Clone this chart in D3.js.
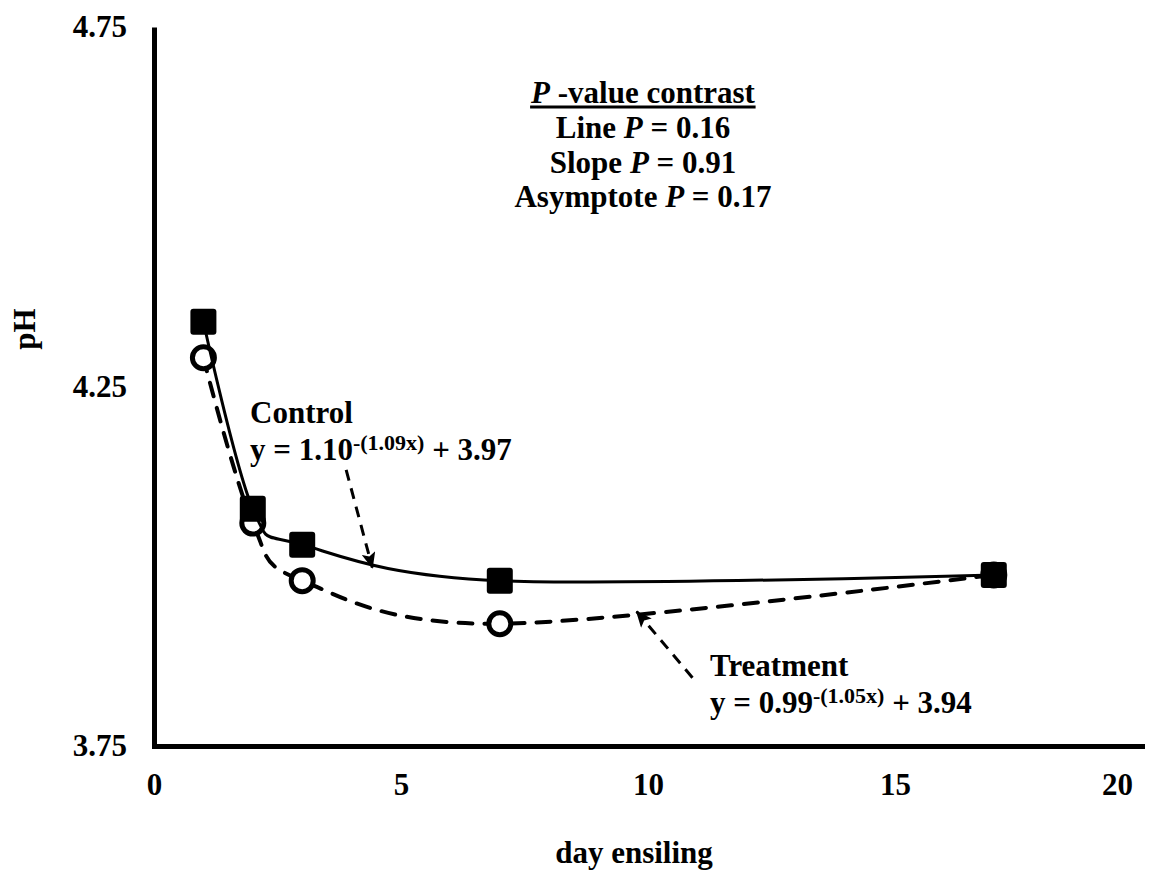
<!DOCTYPE html>
<html>
<head>
<meta charset="utf-8">
<script src="https://cdn.jsdelivr.net/npm/d3@7"></script>
<style>
  html, body { margin: 0; padding: 0; background: #fff; }
  svg { display: block; }
</style>
</head>
<body>
<svg id="chart" width="1162" height="871"></svg>
<script>
// pH during ensiling: control vs. treatment
const days = [1, 2, 3, 7, 17];
const controlPH = [4.34, 4.08, 4.03, 3.98, 3.988];
const treatmentPH = [4.29, 4.06, 3.98, 3.92, 3.988];
const xTicks = [0, 5, 10, 15, 20];
const yTicks = [3.75, 4.25, 4.75];
const contrastLines = [
  ["Line ", "P", " = 0.16"],
  ["Slope ", "P", " = 0.91"],
  ["Asymptote ", "P", " = 0.17"]
];

const SERIF = "'Liberation Serif', 'Times New Roman', Times, 'DejaVu Serif', serif";
const svg = d3.select("#chart")
  .attr("font-family", SERIF).attr("font-weight", "bold");
const x = d3.scaleLinear().domain([0, 20]).range([154, 1142]);
const y = d3.scaleLinear().domain([3.75, 4.75]).range([746, 27]);
const FS = 31;

// axes
const xAxis = svg.append("g")
  .attr("transform", `translate(0,${y(3.75)})`)
  .call(d3.axisBottom(x).tickValues(xTicks).tickSize(0).tickSizeOuter(0).tickPadding(27).tickFormat(d3.format("d")));
const yAxis = svg.append("g")
  .attr("transform", `translate(${x(0)},0)`)
  .call(d3.axisLeft(y).tickValues(yTicks).tickSize(0).tickSizeOuter(0).tickPadding(27).tickFormat(d3.format(".2f")));

[xAxis, yAxis].forEach(g => {
  g.attr("font-family", SERIF).attr("font-size", FS);
  g.select(".domain").attr("stroke", "#000").attr("stroke-width", 5);
  g.selectAll("text").attr("fill", "#000");
});
xAxis.select(".domain").attr("stroke-linecap", "square");
// keep the last x label inside the plot edge
xAxis.selectAll(".tick").filter(d => d === 20).select("text").attr("x", -25);

// axis titles
svg.append("text")
  .attr("transform", `translate(35,329) rotate(-90)`)
  .attr("text-anchor", "middle").attr("font-size", FS).text("pH");
svg.append("text")
  .attr("x", 634).attr("y", 863)
  .attr("text-anchor", "middle").attr("font-size", FS).text("day ensiling");

// fitted curves
const pts = (vals) => days.map((d, i) => [x(d), y(vals[i])]);
const line = d3.line().curve(d3.curveCardinal.tension(0));

svg.append("path")
  .attr("d", line(pts(treatmentPH)))
  .attr("fill", "none").attr("stroke", "#000").attr("stroke-width", 4)
  .attr("stroke-dasharray", "14,12").attr("stroke-linecap", "round");

svg.selectAll("circle.trt").data(pts(treatmentPH)).join("circle")
  .attr("class", "trt")
  .attr("cx", d => d[0]).attr("cy", d => d[1]).attr("r", 11)
  .attr("fill", "#fff").attr("stroke", "#000").attr("stroke-width", 5);

svg.append("path")
  .attr("d", line(pts(controlPH)))
  .attr("fill", "none").attr("stroke", "#000").attr("stroke-width", 3);

svg.selectAll("rect.ctl").data(pts(controlPH)).join("rect")
  .attr("class", "ctl")
  .attr("x", d => d[0] - 13).attr("y", d => d[1] - 13)
  .attr("width", 26).attr("height", 26).attr("rx", 3)
  .attr("fill", "#000");

// arrow annotations
svg.append("defs").append("marker")
  .attr("id", "head").attr("viewBox", "0 0 14 12")
  .attr("refX", 13).attr("refY", 6)
  .attr("markerWidth", 17).attr("markerHeight", 14)
  .attr("markerUnits", "userSpaceOnUse").attr("orient", "auto")
  .append("path").attr("d", "M0,0 L14,6 L0,12 L3,6 Z").attr("fill", "#000");

function arrow(from, to) {
  svg.append("line")
    .attr("x1", x(from[0])).attr("y1", y(from[1]))
    .attr("x2", x(to[0])).attr("y2", y(to[1]))
    .attr("stroke", "#000").attr("stroke-width", 3)
    .attr("stroke-dasharray", "11,8")
    .attr("marker-end", "url(#head)");
}
arrow([3.89, 4.134], [4.42, 3.998]);
arrow([10.9, 3.845], [9.77, 3.937]);

// equation labels
function equation(px, py, name, base, sup, tail) {
  svg.append("text").attr("x", px).attr("y", py).attr("font-size", FS).text(name);
  const t = svg.append("text").attr("x", px).attr("y", py + 37).attr("font-size", FS);
  t.append("tspan").text(base);
  t.append("tspan").attr("font-size", 22).attr("dy", -10).text(sup);
  t.append("tspan").attr("dy", 10).text(tail);
}
equation(250, 423, "Control", "y = 1.10", "-(1.09x)", " + 3.97");
equation(710, 676, "Treatment", "y = 0.99", "-(1.05x)", " + 3.94");

// contrast summary
const cx = 643;
const head = svg.append("text").attr("x", cx).attr("y", 103)
  .attr("text-anchor", "middle").attr("font-size", FS);
head.append("tspan").attr("font-style", "italic").text("P");
head.append("tspan").text(" -value contrast");
const hb = head.node().getBBox();
svg.append("line")
  .attr("x1", hb.x).attr("x2", hb.x + hb.width)
  .attr("y1", 107).attr("y2", 107)
  .attr("stroke", "#000").attr("stroke-width", 3);

contrastLines.forEach((parts, i) => {
  const t = svg.append("text").attr("x", cx).attr("y", 138 + i * 34.5)
    .attr("text-anchor", "middle").attr("font-size", FS);
  t.append("tspan").text(parts[0]);
  t.append("tspan").attr("font-style", "italic").text(parts[1]);
  t.append("tspan").text(parts[2]);
});
</script>
</body>
</html>
